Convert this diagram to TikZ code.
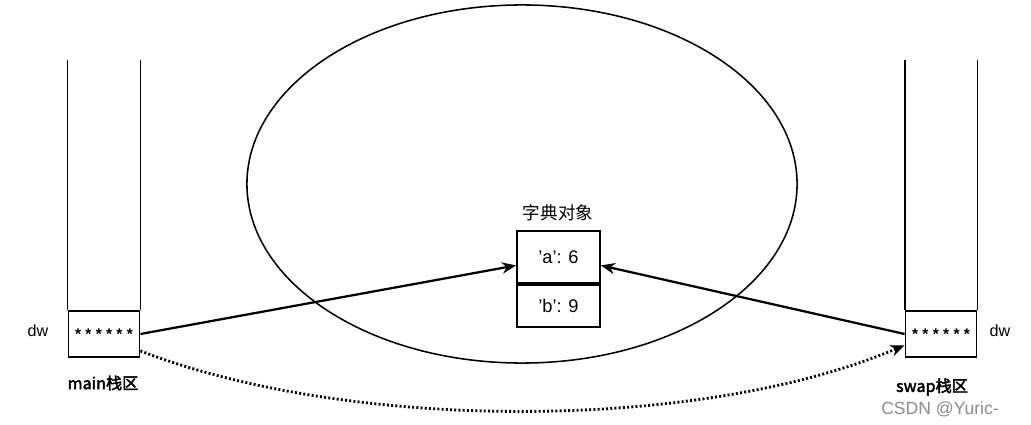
\documentclass[tikz,border=0pt]{standalone}
\usepackage{fontspec}
\setmainfont{Liberation Sans}
\newfontfamily\cjk{Noto Sans CJK SC}[AutoFakeBold=2.5]
\usetikzlibrary{shapes.geometric,arrows.meta}

\begin{document}
\begin{tikzpicture}[x=0.025cm, y=-0.025cm,
    slot/.style={rectangle, draw, line width=1.3pt, minimum width=1.775cm, minimum height=1.15cm, inner sep=0pt, font=\fontsize{11}{12}\selectfont\bfseries\addfontfeature{LetterSpace=28}},
    cell/.style={rectangle, draw, line width=1.3pt, minimum width=2.075cm, inner sep=0pt, font=\fontsize{13}{15}\selectfont},
    lbl/.style={font=\fontsize{11.5}{13}\selectfont},
    stack/.style={font=\cjk\bfseries\fontsize{11.5}{13}\selectfont},
    ptr/.style={line width=1.6pt, -{Stealth[length=10pt, width=8pt]}},
    copy/.style={line width=2pt, dash pattern=on 1.4pt off 1.6pt, -{Stealth[length=10pt, width=8pt]}}]
    \useasboundingbox (0,0) rectangle (1031,425);

    % heap
    \node[ellipse, draw, line width=1.1pt, minimum width=13.75cm, minimum height=8.95cm] (heap) at (522,184) {};
    \node[font=\cjk\fontsize{12.5}{14}\selectfont] (dictname) at (558,213) {字典对象};
    \node[cell, minimum height=1.3cm] (akey) at (558.5,257) {'a': 6};
    \node[cell, minimum height=1.05cm, anchor=north] (bkey) at (akey.south) {'b': 9};

    % main stack
    \node[slot] (mainvar) at (104,334) {\raisebox{-0.22em}{******}};
    \draw[line width=1.3pt] (mainvar.north west) -- (mainvar.north west |- 0,60);
    \draw[line width=1.3pt] (mainvar.north east) -- (mainvar.north east |- 0,60);
    \node[lbl] (maindw) at (38,331) {dw};
    \node[stack] (mainlbl) at (103,383) {main栈区};

    % swap stack
    \node[slot] (swapvar) at (941,334) {\raisebox{-0.22em}{******}};
    \draw[line width=1.3pt] (swapvar.north west) -- (swapvar.north west |- 0,60);
    \draw[line width=1.3pt] (swapvar.north east) -- (swapvar.north east |- 0,60);
    \node[lbl] (swapdw) at (1000,331) {dw};
    \node[stack] (swaplbl) at (932,387) {swap栈区};

    \node[font=\fontsize{12.5}{14}\selectfont, text=black!45] (mark) at (940,409) {CSDN @Yuric-};

    \draw[ptr] (mainvar.east) -- ([yshift=-6pt]akey.west);
    \draw[ptr] (swapvar.west) -- ([yshift=-6pt]akey.east);
    \draw[copy] ([yshift=5pt]mainvar.south east) .. controls (350,432) and (700,432) .. ([yshift=-8pt]swapvar.west);
\end{tikzpicture}
\end{document}
